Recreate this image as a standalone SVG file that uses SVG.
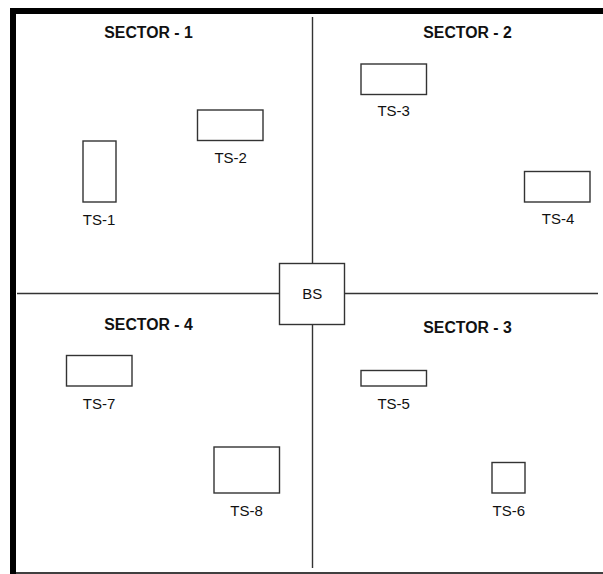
<svg xmlns="http://www.w3.org/2000/svg" width="603" height="574" viewBox="0 0 603 574">
<style>
.box{fill:#fff;stroke:#333;stroke-width:1.4}
.lbl{font-family:"Liberation Sans",Arial,sans-serif;font-size:15px;fill:#111;text-anchor:middle}
.sec{font-family:"Liberation Sans",Arial,sans-serif;font-size:15.8px;font-weight:bold;fill:#111;text-anchor:middle}
.ln{stroke:#333;stroke-width:1.4;fill:none}
</style>
<rect width="603" height="574" fill="#fff"/>
<g id="frame">
<rect x="10" y="8" width="593" height="6" fill="#000"/>
<rect x="10" y="8" width="6" height="566" fill="#000"/>
<line x1="10" y1="573" x2="603" y2="573" stroke="#000" stroke-width="1.6"/>
</g>
<g id="connectors">
<line class="ln" x1="312.5" y1="17" x2="312.5" y2="263"/>
<line class="ln" x1="312.5" y1="324" x2="312.5" y2="568"/>
<line class="ln" x1="17" y1="293.5" x2="279" y2="293.5"/>
<line class="ln" x1="344" y1="293.5" x2="598" y2="293.5"/>
</g>
<g id="sectors">
<text class="sec" x="148.5" y="38">SECTOR - 1</text>
<text class="sec" x="467.5" y="38">SECTOR - 2</text>
<text class="sec" x="467.5" y="332.5">SECTOR - 3</text>
<text class="sec" x="148.5" y="329.5">SECTOR - 4</text>
</g>
<g id="BS"><rect class="box" x="279.5" y="263.5" width="65" height="61"/><text class="lbl" x="312.2" y="299">BS</text></g>
<g id="TS-1"><rect class="box" x="83" y="141" width="33" height="61"/><text class="lbl" x="99" y="224.5">TS-1</text></g>
<g id="TS-2"><rect class="box" x="197.5" y="110" width="65.5" height="30.5"/><text class="lbl" x="230.7" y="163.3">TS-2</text></g>
<g id="TS-3"><rect class="box" x="361" y="64" width="65.5" height="30.5"/><text class="lbl" x="393.7" y="116">TS-3</text></g>
<g id="TS-4"><rect class="box" x="524.5" y="171.5" width="65.5" height="30.5"/><text class="lbl" x="558" y="223.7">TS-4</text></g>
<g id="TS-5"><rect class="box" x="361" y="370.5" width="65.5" height="15.5"/><text class="lbl" x="393.7" y="408.7">TS-5</text></g>
<g id="TS-6"><rect class="box" x="492" y="462.5" width="33" height="30.5"/><text class="lbl" x="508.8" y="515.7">TS-6</text></g>
<g id="TS-7"><rect class="box" x="66.5" y="355.5" width="65.5" height="30.5"/><text class="lbl" x="99" y="408.7">TS-7</text></g>
<g id="TS-8"><rect class="box" x="214" y="447" width="65.5" height="46"/><text class="lbl" x="246.5" y="515.7">TS-8</text></g>
</svg>
